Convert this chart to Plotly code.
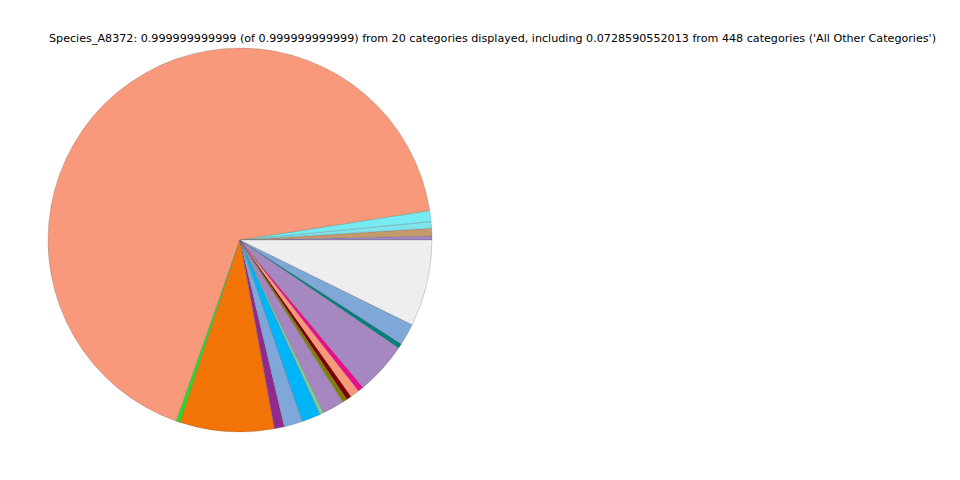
import plotly.graph_objects as go

labels = ["Cat_01", "Cat_02", "Cat_03", "Cat_04", "Cat_05", "Cat_06", "Cat_07",
          "Cat_08", "Cat_09", "Cat_10", "Cat_11", "Cat_12", "Cat_13", "Cat_14",
          "Cat_15", "Cat_16", "Cat_17", "Cat_18", "Cat_19", "All Other Categories"]
values = [0.0033, 0.0064, 0.0056, 0.0092, 0.6714, 0.0033, 0.0792, 0.0083, 0.0156,
          0.0158, 0.0033, 0.0183, 0.0039, 0.0042, 0.0078, 0.0047, 0.0442, 0.0039,
          0.0183, 0.0728590552013]
colors = ["#9F86C4", "#C49A6C", "#7EE3EC", "#76EBF2", "#F7997A", "#22E022", "#F27407",
          "#912A8E", "#7FA7D9", "#00B4FA", "#80C99A", "#A586BF", "#808000", "#800000",
          "#F7997A", "#EE0A8C", "#A488BF", "#007F7F", "#7FA8D8", "#EEEEEE"]

title = ("Species_A8372: 0.999999999999 (of 0.999999999999) from 20 categories displayed, "
         "including 0.0728590552013 from 448 categories ('All Other Categories')")

fig = go.Figure(go.Pie(
    labels=labels, values=values, sort=False, direction="counterclockwise",
    rotation=88.8, textinfo="none", showlegend=False,
    marker=dict(colors=colors, line=dict(color="rgba(90,90,90,0.5)", width=0.5)),
    domain=dict(x=[40/960, 424/960], y=[1-424/480, 1-40/480]),
))
fig.update_layout(
    width=960, height=480, margin=dict(l=0, r=0, t=0, b=0),
    paper_bgcolor="white", plot_bgcolor="white",
    annotations=[dict(text=title, x=484/960, y=1-31/480, xref="paper", yref="paper",
                      showarrow=False, xanchor="center", yanchor="middle",
                      font=dict(family="DejaVu Sans", size=11.15, color="black"))],
)
fig.write_html("out.html")
